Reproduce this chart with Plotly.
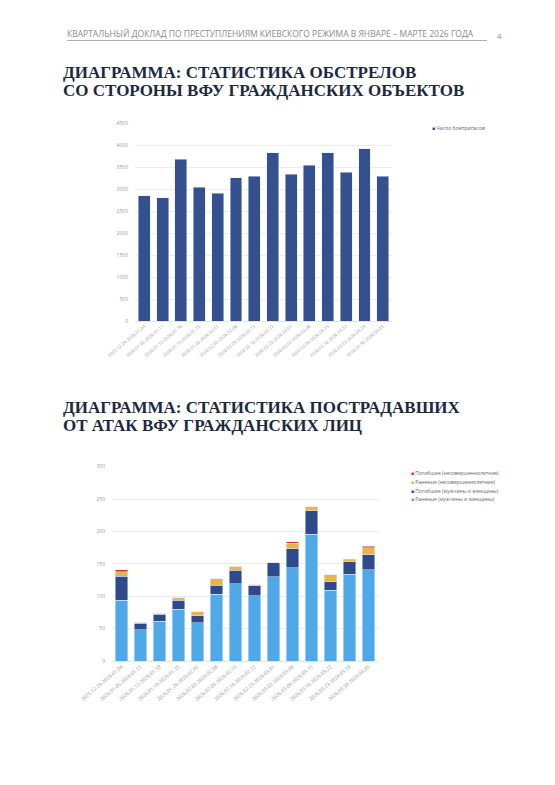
import plotly.graph_objects as go

W, H = 547, 777
OFF = 8  # page body margin

weeks = [
    "2025.12.29-2026.01.04", "2026.01.05-2026.01.11", "2026.01.12-2026.01.18",
    "2026.01.19-2026.01.25", "2026.01.26-2026.02.01", "2026.02.02-2026.02.08",
    "2026.02.09-2026.02.15", "2026.02.16-2026.02.22", "2026.02.23-2026.03.01",
    "2026.03.02-2026.03.08", "2026.03.09-2026.03.15", "2026.03.16-2026.03.22",
    "2026.03.23-2026.03.29", "2026.03.30-2026.04.05",
]
ammo = [2850, 2810, 3680, 3050, 2910, 3260, 3300, 3830, 3340, 3550, 3830, 3390, 3920, 3290]

wounded_adults = [94, 48, 61, 80, 59, 103, 119, 101, 130, 144, 196, 109, 134, 141]
killed_adults = [37, 10, 11, 14, 11, 14, 21, 15, 22, 29, 36, 13, 19, 23]
wounded_minors = [7, 2, 2, 4, 6, 10, 6, 2, 0, 9, 6, 11, 3, 11]
killed_minors = [3, 0, 0, 0, 0, 0, 0, 0, 0, 2, 0, 0, 1, 2]

ammo_ticks = [0, 500, 1000, 1500, 2000, 2500, 3000, 3500, 4000, 4500]
victim_ticks = [0, 50, 100, 150, 200, 250, 300]

header = "КВАРТАЛЬНЫЙ ДОКЛАД ПО ПРЕСТУПЛЕНИЯМ КИЕВСКОГО РЕЖИМА В ЯНВАРЕ – МАРТЕ 2026 ГОДА"
title1 = ["ДИАГРАММА: СТАТИСТИКА ОБСТРЕЛОВ", "СО СТОРОНЫ ВФУ ГРАЖДАНСКИХ ОБЪЕКТОВ"]
title2 = ["ДИАГРАММА: СТАТИСТИКА ПОСТРАДАВШИХ", "ОТ АТАК ВФУ ГРАЖДАНСКИХ ЛИЦ"]
legend1 = "Число боеприпасов"
s_names = ["Раненые (мужчины и женщины)", "Погибшие (мужчины и женщины)",
           "Раненые (несовершеннолетние)", "Погибшие (несовершеннолетние)"]

DARK = "#34508F"
LIGHT = "#4FA8E8"
GOLD = "#E6B54C"
RED = "#D8342A"
colors2 = [LIGHT, "#2F4A8C", GOLD, RED]

def px_x(x):
    return (x - OFF) / W

def px_y(y):
    return 1 - (y - OFF) / H

fig = go.Figure()

fig.add_trace(go.Bar(x=weeks, y=ammo, marker_color=DARK, name=legend1,
                     xaxis="x", yaxis="y", showlegend=False))
for vals, nm, c in zip([wounded_adults, killed_adults, wounded_minors, killed_minors], s_names, colors2):
    fig.add_trace(go.Bar(x=weeks, y=vals, marker_color=c, name=nm,
                         xaxis="x2", yaxis="y2", showlegend=False))

tickfont = dict(family="Open Sans, DejaVu Sans, sans-serif", size=5, color="#9a9a9a")

fig.update_layout(
    width=W, height=H, margin=dict(l=0, r=0, t=0, b=0, autoexpand=False),
    paper_bgcolor="white", plot_bgcolor="white",
    barmode="stack", bargap=0.35,
    xaxis=dict(domain=[px_x(135), px_x(392)], anchor="y", tickangle=-40, automargin=False,
               tickfont=dict(tickfont, size=4.5), showgrid=False, ticks="",
               showline=True, linecolor="#e4e4e4", linewidth=1),
    yaxis=dict(domain=[px_y(321), px_y(123.3)], anchor="x", range=[0, 4500], automargin=False,
               tickvals=ammo_ticks, tickfont=tickfont, showgrid=True,
               gridcolor="#ececec", gridwidth=1, zeroline=False, ticks="",
               ticklabelstandoff=6),
    xaxis2=dict(domain=[px_x(112), px_x(378)], anchor="y2", tickangle=-40, automargin=False,
                tickfont=tickfont, showgrid=False, ticks="",
                showline=True, linecolor="#e4e4e4", linewidth=1),
    yaxis2=dict(domain=[px_y(661), px_y(466.7)], anchor="x2", range=[0, 300], automargin=False,
                tickvals=victim_ticks, tickfont=tickfont, showgrid=True,
                gridcolor="#ececec", gridwidth=1, zeroline=False, ticks="",
                ticklabelstandoff=6),
)

title_font = dict(family="Liberation Serif, Times New Roman, serif", size=17, color="#1c2940")

def txt(text, x, y, font, xanchor="left"):
    return dict(text=text, x=px_x(x), y=px_y(y), xref="paper", yref="paper",
                showarrow=False, font=font, xanchor=xanchor, yanchor="middle")

annotations = [
    txt(header, 270, 33.5, dict(family="Open Sans, sans-serif", size=8.5, color="#8c8c8c"), "center"),
    txt("4", 500, 35, dict(family="Open Sans, sans-serif", size=8, color="#8c8c8c"), "center"),
    txt("<b>" + title1[0] + "</b>", 61, 72.5, title_font),
    txt("<b>" + title1[1] + "</b>", 61, 90, title_font),
    txt("<b>" + title2[0] + "</b>", 61, 407.5, title_font),
    txt("<b>" + title2[1] + "</b>", 61, 425, title_font),
    txt(f"<span style='color:{DARK}'>■</span> {legend1}", 430, 128,
        dict(family="Open Sans, sans-serif", size=5, color="#666666")),
]
leg_order = [3, 2, 1, 0]
for i, k in enumerate(leg_order):
    annotations.append(txt(f"<span style='color:{colors2[k]}'>■</span> {s_names[k]}",
                           409, 473 + i * 9,
                           dict(family="Open Sans, sans-serif", size=5, color="#666666")))
fig.update_layout(annotations=annotations)

fig.add_shape(type="line", xref="paper", yref="paper",
              x0=px_x(67), x1=px_x(487), y0=px_y(40.5), y1=px_y(40.5),
              line=dict(color="#9a9a9a", width=0.8))

fig.write_html("out.html")
